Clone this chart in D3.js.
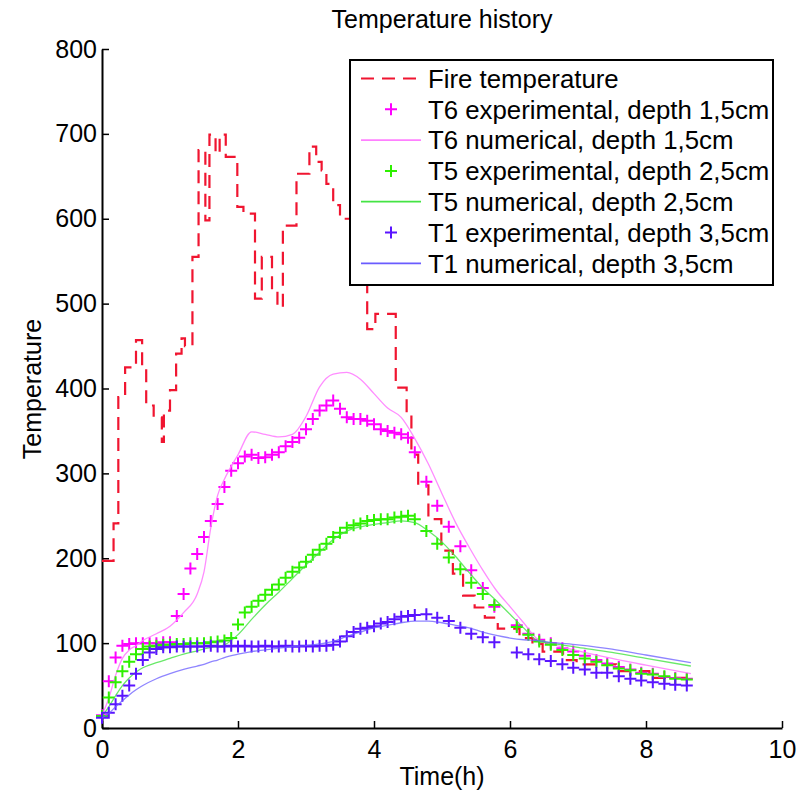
<!DOCTYPE html>
<html>
<head>
<meta charset="utf-8">
<script src="https://cdn.jsdelivr.net/npm/d3@7"></script>
<style>
  body { margin: 0; background: #fff; }
  text { font-family: "Liberation Sans", Arial, Helvetica, sans-serif; fill: #000; }
</style>
</head>
<body>
<svg id="chart" width="810" height="792"></svg>
<script>
// ---------------- DATA ----------------
const xTicks = [0, 2, 4, 6, 8, 10];
const yTicks = [0, 100, 200, 300, 400, 500, 600, 700, 800];

const titleText = "Temperature history";
const xLabel = "Time(h)";
const yLabel = "Temperature";

// Fire temperature (step series): start time of each step and its value
const fireTime = [0, 0.17, 0.24, 0.34, 0.50, 0.59, 0.65, 0.76, 0.88, 0.91,
  1.00, 1.09, 1.17, 1.22, 1.33, 1.42, 1.52, 1.58, 1.67, 1.73,
  1.82, 1.99, 2.08, 2.25, 2.35, 2.50, 2.58, 2.66, 2.86, 3.05,
  3.15, 3.23, 3.30, 3.40, 3.50, 3.90, 4.02, 4.32, 4.48, 4.55,
  4.65, 4.80, 4.99, 5.16, 5.31, 5.48, 5.63, 5.82, 6.14, 6.33,
  6.48, 6.78, 6.98, 7.56, 8.05, 8.66];
const fireTemp = [197, 241, 390, 425, 457, 427, 380, 366, 337, 374,
  398, 441, 459, 450, 555, 681, 598, 699, 677, 699,
  673, 614, 606, 506, 555, 516, 496, 592, 653, 685,
  667, 657, 641, 616, 600, 470, 488, 401, 370, 322,
  286, 246, 209, 182, 156, 142, 130, 117, 106, 99,
  90, 80, 75, 67, 59, 59];

// Experimental sampling times (h)
const expTime = [0.0, 0.1, 0.2, 0.3, 0.4, 0.5, 0.6, 0.7, 0.8, 0.9,
  1.0, 1.1, 1.2, 1.3, 1.4, 1.5, 1.6, 1.7, 1.8, 1.9,
  2.0, 2.1, 2.2, 2.3, 2.4, 2.5, 2.6, 2.7, 2.8, 2.9,
  3.0, 3.1, 3.2, 3.3, 3.4, 3.5, 3.6, 3.7, 3.8, 3.9,
  4.0, 4.1, 4.2, 4.3, 4.4, 4.5, 4.6,
  4.77, 4.93, 5.1, 5.27, 5.43, 5.6, 5.77, 6.1, 6.27, 6.43,
  6.6, 6.77, 6.93, 7.1, 7.27, 7.43, 7.6, 7.77, 7.93, 8.1,
  8.27, 8.43, 8.6];

const t6Exp = [15, 55, 83, 97, 99, 100, 100, 100, 100, 101,
  101, 132, 158, 188, 205, 225, 244, 264, 284, 303,
  312, 320, 322, 318, 319, 322, 325, 332, 337, 342,
  352, 364, 374, 380, 386, 376, 366, 364, 364, 362,
  358, 352, 350, 348, 346, 342, 325,
  290, 262, 237, 214, 186, 165, 143, 121, 111, 104,
  100, 94, 90, 85, 80, 76, 72, 69, 65, 64,
  60, 59, 58];

const t5Exp = [14, 36, 54, 67, 78, 87, 93, 96, 97, 98,
  98, 99, 99, 100, 100, 100, 101, 102, 103, 106,
  122, 136, 143, 150, 157, 163, 169, 177, 184, 189,
  196, 204, 210, 217, 225, 230, 236, 239, 241, 244,
  245, 246, 246, 248, 249, 250, 246,
  232, 217, 201, 187, 171, 158, 145, 119, 110, 102,
  98, 92, 86, 82, 78, 74, 70, 68, 64, 63,
  61, 58, 57];

const t1Exp = [12, 18, 28, 38, 50, 64, 80, 89, 93, 95,
  95, 96, 96, 96, 96, 96, 97, 96, 96, 97,
  96, 97, 96, 96, 97, 96, 96, 97, 96, 96,
  97, 96, 97, 97, 98, 102, 108, 113, 117, 118,
  120, 123, 125, 128, 131, 132, 133,
  134, 130, 126, 118, 111, 107, 101, 89, 87, 81,
  79, 75, 71, 69, 65, 65, 61, 58, 56, 54,
  52, 51, 50];

// Numerical model times (h)
const numTime = [0, 0.1, 0.2, 0.3, 0.4, 0.5, 0.6, 0.8, 1.0, 1.2,
  1.4, 1.5, 1.6, 1.7, 1.8, 2.0, 2.2, 2.4, 2.6, 2.8,
  3.0, 3.2, 3.4, 3.6, 3.8, 4.0, 4.2, 4.4, 4.6, 4.8,
  5.0, 5.2, 5.4, 5.6, 5.8, 6.0, 6.2, 6.4, 6.6, 7.0,
  7.5, 8.0, 8.66];

const t6Num = [15, 35, 62, 82, 92, 97, 103, 111, 120, 136,
  158, 184, 236, 274, 293, 322, 349, 346, 343, 346,
  367, 402, 417, 419, 411, 394, 377, 366, 341, 311,
  276, 242, 213, 186, 162, 143, 124, 105, 99, 91,
  82, 74, 64];

const t5Num = [14, 25, 38, 50, 59, 66, 71, 77, 82, 87,
  91, 93, 95, 96, 98, 110, 128, 145, 160, 176,
  192, 207, 222, 232, 237, 240, 242, 244, 242, 232,
  219, 202, 183, 165, 150, 134, 118, 103, 100, 95,
  89, 82, 73];

const t1Num = [12, 17, 25, 32, 39, 45, 50, 58, 64, 69,
  73, 75, 78, 80, 83, 87, 90, 92, 94, 96,
  97, 99, 102, 108, 113, 118, 121, 124, 126, 126,
  124, 121, 118, 113, 109, 106, 104, 103, 101, 98,
  93, 86, 77];

const legendLabels = [
  "Fire temperature",
  "T6 experimental, depth 1,5cm",
  "T6 numerical, depth 1,5cm",
  "T5 experimental, depth 2,5cm",
  "T5 numerical, depth 2,5cm",
  "T1 experimental, depth 3,5cm",
  "T1 numerical, depth 3,5cm"
];

// ---------------- STYLES ----------------
const FONT = "Liberation Sans, Arial, Helvetica, sans-serif";
const fireStyle = { color: "#f01530", width: 2.2, dash: "13,8" };
const styles = {
  t6e: { color: "#ff00ff" },
  t6n: { color: "#ff80ff", width: 1.3, opacity: 0.9 },
  t5e: { color: "#2ef000" },
  t5n: { color: "#44e444", width: 1.3, opacity: 0.8 },
  t1e: { color: "#5a14ff" },
  t1n: { color: "#6a5cff", width: 1.3, opacity: 0.75 }
};

// ---------------- DRAW ----------------
const svg = d3.select("#chart");
const x = d3.scaleLinear().domain([0, 10]).range([102, 782]);
const y = d3.scaleLinear().domain([0, 800]).range([728, 49]);

// Axes (ticks pointing inward, MATLAB style)
const yAxis = d3.axisLeft(y).tickValues(yTicks).tickSizeInner(-7).tickSizeOuter(0).tickPadding(5);
const xAxis = d3.axisBottom(x).tickValues(xTicks).tickSizeInner(-7).tickSizeOuter(0).tickPadding(12);

const gy = svg.append("g").attr("transform", `translate(${x(0)},0)`).call(yAxis);
const gx = svg.append("g").attr("transform", `translate(0,${y(0)})`).call(xAxis);
[gx, gy].forEach(g => {
  g.attr("font-size", 25).attr("font-family", FONT);
  g.select(".domain").attr("stroke", "#000").attr("stroke-width", 2);
  g.selectAll(".tick line").attr("stroke", "#000").attr("stroke-width", 1.5);
  g.selectAll(".tick text").attr("fill", "#000");
});

// Titles
svg.append("text").attr("x", 442).attr("y", 28).attr("text-anchor", "middle")
  .attr("font-size", 25).text(titleText);
svg.append("text").attr("x", 442).attr("y", 785).attr("text-anchor", "middle")
  .attr("font-size", 25).text(xLabel);
svg.append("text").attr("transform", "translate(41,389) rotate(-90)").attr("text-anchor", "middle")
  .attr("font-size", 25).text(yLabel);

// Fire temperature (stairs)
const fireData = fireTime.map((t, i) => [t, fireTemp[i]]);
const stepLine = d3.line().x(d => x(d[0])).y(d => y(d[1])).curve(d3.curveStepAfter);
svg.append("path").datum(fireData).attr("d", stepLine)
  .attr("fill", "none").attr("stroke", fireStyle.color)
  .attr("stroke-width", fireStyle.width).attr("stroke-dasharray", fireStyle.dash);

const smoothLine = d3.line().x(d => x(d[0])).y(d => y(d[1])).curve(d3.curveMonotoneX);
const plusPath = "M-6,0H6M0,-6V6";

function drawNum(vals, st) {
  svg.append("path").datum(numTime.map((t, i) => [t, vals[i]])).attr("d", smoothLine)
    .attr("fill", "none").attr("stroke", st.color).attr("stroke-width", st.width)
    .attr("stroke-opacity", st.opacity);
}
function drawExp(vals, st) {
  svg.append("g").selectAll("path").data(expTime.map((t, i) => [t, vals[i]])).join("path")
    .attr("d", plusPath).attr("transform", d => `translate(${x(d[0])},${y(d[1])})`)
    .attr("fill", "none").attr("stroke", st.color).attr("stroke-width", 2);
}

drawExp(t6Exp, styles.t6e);
drawNum(t6Num, styles.t6n);
drawExp(t5Exp, styles.t5e);
drawNum(t5Num, styles.t5n);
drawExp(t1Exp, styles.t1e);
drawNum(t1Num, styles.t1n);

// Legend
const lg = svg.append("g");
lg.append("rect").attr("x", 350).attr("y", 60).attr("width", 423).attr("height", 225)
  .attr("fill", "#fff").attr("stroke", "#000").attr("stroke-width", 2);
const legendKinds = [
  { type: "fire" },
  { type: "exp", st: styles.t6e },
  { type: "num", st: styles.t6n },
  { type: "exp", st: styles.t5e },
  { type: "num", st: styles.t5n },
  { type: "exp", st: styles.t1e },
  { type: "num", st: styles.t1n }
];
legendLabels.forEach((lab, i) => {
  const cy = 78.5 + i * 30.8;
  const k = legendKinds[i];
  if (k.type === "fire") {
    lg.append("line").attr("x1", 361).attr("x2", 421).attr("y1", cy).attr("y2", cy)
      .attr("stroke", fireStyle.color).attr("stroke-width", fireStyle.width)
      .attr("stroke-dasharray", fireStyle.dash);
  } else if (k.type === "exp") {
    lg.append("path").attr("d", plusPath).attr("transform", `translate(391,${cy})`)
      .attr("fill", "none").attr("stroke", k.st.color).attr("stroke-width", 2);
  } else {
    lg.append("line").attr("x1", 361).attr("x2", 421).attr("y1", cy).attr("y2", cy)
      .attr("stroke", k.st.color).attr("stroke-width", k.st.width + 0.4);
  }
  lg.append("text").attr("x", 428).attr("y", cy).attr("dy", "0.36em")
    .attr("font-size", 25.8).text(lab);
});
</script>
</body>
</html>
